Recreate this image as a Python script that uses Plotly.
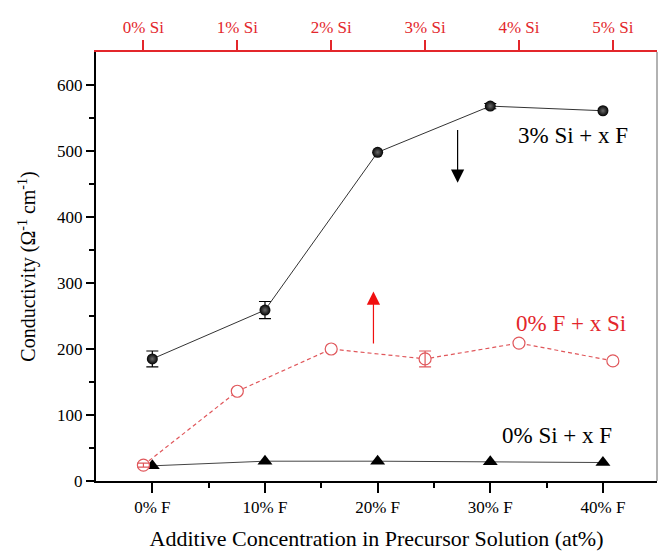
import plotly.graph_objects as go

# Bottom axis: F content (at%)
f_x = [0, 10, 20, 30, 40]
f_ticktext = ["0% F", "10% F", "20% F", "30% F", "40% F"]
# Top axis: Si content (at%)
si_x = [0, 1, 2, 3, 4, 5]
si_ticktext = ["0% Si", "1% Si", "2% Si", "3% Si", "4% Si", "5% Si"]

# 3% Si + x F
si3_f_y = [185, 259, 498, 568, 561]
si3_f_err = [12, 13, 0, 4, 0]
# 0% Si + x F
si0_f_y = [23, 30, 30, 29, 28]
# 0% F + x Si
f0_si_y = [24, 136, 200, 185, 209, 182]
f0_si_err = [3, 0, 0, 12, 0, 0]

FONT = "'Liberation Serif', 'Times New Roman', 'DejaVu Serif', serif"
RED = "#e3262b"
REDL = "#e0575b"


def with_err(xs, ys, es):
    idx = [i for i, e in enumerate(es) if e > 0]
    return [xs[i] for i in idx], [ys[i] for i in idx], [es[i] for i in idx]


fig = go.Figure()

fig.add_trace(go.Scatter(
    x=f_x, y=si0_f_y, mode="lines+markers",
    line=dict(color="#444", width=1),
    marker=dict(symbol="triangle-up", size=13, color="black"),
    showlegend=False))

fig.add_trace(go.Scatter(
    x=si_x, y=f0_si_y, xaxis="x2", mode="lines+markers",
    line=dict(color=REDL, width=1.2, dash="4px,3px"),
    marker=dict(symbol="circle", size=12, color="white", line=dict(width=1.2, color=REDL)),
    showlegend=False))
ex, ey, ee = with_err(si_x, f0_si_y, f0_si_err)
fig.add_trace(go.Scatter(
    x=ex, y=ey, xaxis="x2", mode="markers", marker=dict(size=1, opacity=0),
    error_y=dict(type="data", array=ee, color=REDL, thickness=1.2, width=6),
    showlegend=False, hoverinfo="skip"))

ex, ey, ee = with_err(f_x, si3_f_y, si3_f_err)
fig.add_trace(go.Scatter(
    x=ex, y=ey, mode="markers", marker=dict(size=1, opacity=0),
    error_y=dict(type="data", array=ee, color="black", thickness=1.2, width=6),
    showlegend=False, hoverinfo="skip"))
fig.add_trace(go.Scatter(
    x=f_x, y=si3_f_y, mode="lines+markers",
    line=dict(color="#333", width=1),
    marker=dict(symbol="circle", size=11, color="black",
                gradient=dict(type="radial", color="#6a6a6a"),
                line=dict(width=0)),
    showlegend=False))

fig.update_layout(
    width=659, height=554,
    margin=dict(l=96, r=2, t=52, b=73),
    paper_bgcolor="white", plot_bgcolor="white",
    font=dict(family=FONT, size=16, color="black"),
    xaxis=dict(
        range=[-5, 44.8], tickmode="array", tickvals=f_x, ticktext=f_ticktext,
        ticks="outside", ticklen=10, tickwidth=1.5, tickcolor="black",
        minor=dict(tickvals=[5, 15, 25, 35], ticks="outside", ticklen=5, tickwidth=1.5, tickcolor="black"),
        showline=True, linecolor="black", linewidth=2, showgrid=False, zeroline=False,
        tickfont=dict(family=FONT, size=17),
        title=dict(text="Additive Concentration in Precursor Solution (at%)",
                   font=dict(family=FONT, size=22), standoff=14),
    ),
    xaxis2=dict(
        overlaying="x", side="top", anchor="y",
        range=[-0.505, 5.47], tickmode="array", tickvals=si_x, ticktext=si_ticktext,
        ticks="outside", ticklen=10, tickwidth=1.5, tickcolor=RED,
        showline=True, linecolor=RED, linewidth=2, showgrid=False, zeroline=False,
        tickfont=dict(family=FONT, size=17, color=RED),
    ),
    yaxis=dict(
        range=[0, 650], tickmode="array", tickvals=[0, 100, 200, 300, 400, 500, 600],
        ticks="outside", ticklen=8, tickwidth=1.5, tickcolor="black",
        minor=dict(tickvals=[50, 150, 250, 350, 450, 550], ticks="outside", ticklen=5, tickwidth=1.5, tickcolor="black"),
        showline=True, linecolor="black", linewidth=2, showgrid=False, zeroline=False,
        tickfont=dict(family=FONT, size=17),
        title=dict(text="Conductivity (Ω<sup>-1</sup> cm<sup>-1</sup>)",
                   font=dict(family=FONT, size=20), standoff=16),
    ),
)

# right frame line
fig.add_shape(type="line", xref="paper", yref="paper", x0=1, x1=1, y0=0, y1=1,
              line=dict(color="#999", width=1.5))

# labels
fig.add_annotation(x=37.3, y=524, xref="x", yref="y", text="3% Si + x F", showarrow=False,
                   font=dict(family=FONT, size=23, color="black"))
fig.add_annotation(x=4.55, y=239, xref="x2", yref="y", text="0% F + x Si", showarrow=False,
                   font=dict(family=FONT, size=23, color=RED))
fig.add_annotation(x=35.9, y=69, xref="x", yref="y", text="0% Si + x F", showarrow=False,
                   font=dict(family=FONT, size=23, color="black"))

# arrows
fig.add_annotation(x=27.1, y=452, ax=27.1, ay=534, xref="x", yref="y", axref="x", ayref="y",
                   text="", showarrow=True, arrowhead=2, arrowsize=2.2, arrowwidth=1.2, arrowcolor="black")
fig.add_annotation(x=2.45, y=287, ax=2.45, ay=206, xref="x2", yref="y", axref="x2", ayref="y",
                   text="", showarrow=True, arrowhead=2, arrowsize=2.2, arrowwidth=1.2, arrowcolor="#f01010")

fig.write_html("out.html")
